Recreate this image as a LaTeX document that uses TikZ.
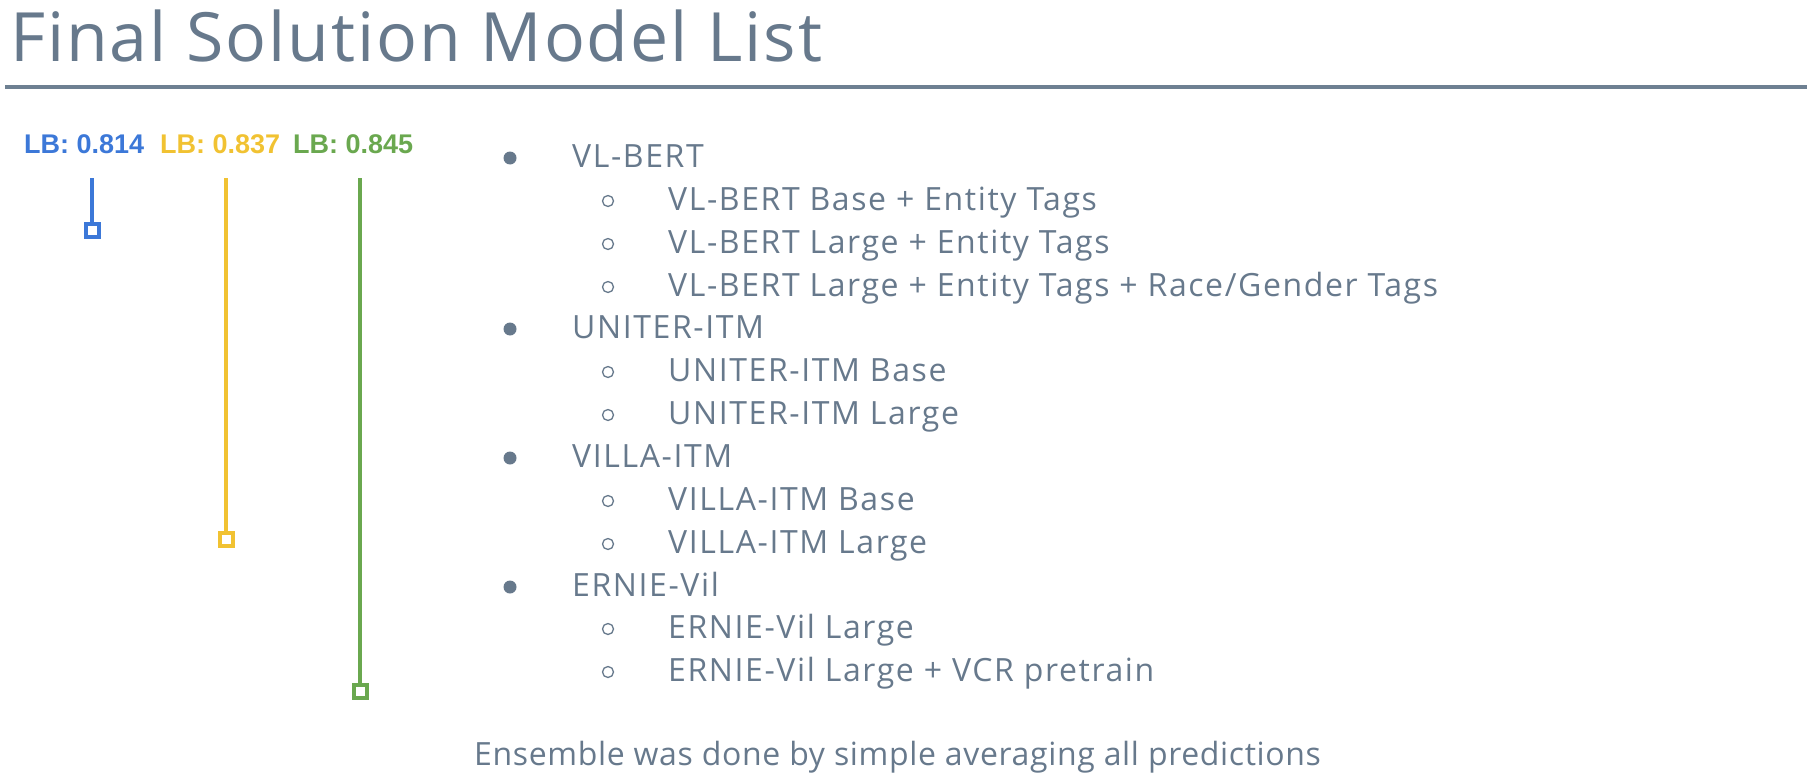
\documentclass[tikz,border=0pt]{standalone}
\usepackage{fontspec}
\setmainfont{Open Sans}
\newfontfamily\lbfont{Liberation Sans}
\definecolor{slate}{HTML}{67798C}
\definecolor{rulegray}{HTML}{6E8092}
\definecolor{lbblue}{HTML}{3C78D8}
\definecolor{lbyellow}{HTML}{F1C232}
\definecolor{lbgreen}{HTML}{6AA84F}
\begin{document}
\begin{tikzpicture}[x=1pt, y=-1pt,
    txt/.style={anchor=base west, inner sep=0pt, text=slate, font=\fontsize{32}{36}\selectfont\addfontfeature{LetterSpace=5}},
    note/.style={anchor=base west, inner sep=0pt, text=slate, font=\fontsize{32}{36}\selectfont\addfontfeature{LetterSpace=2}},
    lb/.style={anchor=base west, inner sep=0pt, font=\lbfont\bfseries\fontsize{27}{32}\selectfont},
    dot/.style={circle, fill=slate, inner sep=0pt, minimum size=13pt},
    ring/.style={circle, draw=slate, line width=1.3pt, inner sep=0pt, minimum size=11pt},
    endbox/.style={rectangle, draw, fill=white, line width=4pt, inner sep=0pt, minimum size=13pt}]

    \useasboundingbox (0,0) rectangle (1820,784);

    % Title and rule
    \node[anchor=base west, inner sep=0pt, text=slate, font=\fontsize{68}{80}\selectfont\addfontfeature{LetterSpace=2.8}] (title) at (10,62) {Final Solution Model List};
    \coordinate (H1) at (5,87);
    \coordinate (H2) at (1807,87);
    \draw[rulegray, line width=4.5pt] (H1) -- (H2);

    % Define leaderboard labels (left)
    \node[lb, text=lbblue] (L1) at (24,153) {LB: 0.814};
    \node[lb, text=lbyellow] (L2) at (160,153) {LB: 0.837};
    \node[lb, text=lbgreen] (L3) at (293,153) {LB: 0.845};

    % Define line tops and end boxes
    \coordinate (T1) at (92,178);
    \coordinate (T2) at (226,178);
    \coordinate (T3) at (360,178);
    \node[endbox, draw=lbblue] (S1) at (92,230) {};
    \node[endbox, draw=lbyellow] (S2) at (226,539) {};
    \node[endbox, draw=lbgreen] (S3) at (360,691) {};

    % Draw lines from the tops to the boxes
    \draw[lbblue, line width=4pt] (T1) -- (S1.north);
    \draw[lbyellow, line width=4pt] (T2) -- (S2.north);
    \draw[lbgreen, line width=4pt] (T3) -- (S3.north);

    % Define model families (first level)
    \node[dot] (D1) at (510,158) {};
    \node[txt] (M1) at (572,167) {VL-BERT};
    \node[dot] (D2) at (510,329) {};
    \node[txt] (M2) at (572,338) {UNITER-ITM};
    \node[dot] (D3) at (510,458) {};
    \node[txt] (M3) at (572,467) {VILLA-ITM};
    \node[dot] (D4) at (510,587) {};
    \node[txt] (M4) at (572,596) {ERNIE-Vil};

    % Define single models (second level)
    \node[ring] (R1) at (608,201) {};
    \node[txt] (P1) at (668,210) {VL-BERT Base + Entity Tags};
    \node[ring] (R2) at (608,244) {};
    \node[txt] (P2) at (668,253) {VL-BERT Large + Entity Tags};
    \node[ring] (R3) at (608,287) {};
    \node[txt] (P3) at (668,296) {VL-BERT Large + Entity Tags + Race/Gender Tags};
    \node[ring] (R4) at (608,372) {};
    \node[txt] (P4) at (668,381) {UNITER-ITM Base};
    \node[ring] (R5) at (608,415) {};
    \node[txt] (P5) at (668,424) {UNITER-ITM Large};
    \node[ring] (R6) at (608,501) {};
    \node[txt] (P6) at (668,510) {VILLA-ITM Base};
    \node[ring] (R7) at (608,544) {};
    \node[txt] (P7) at (668,553) {VILLA-ITM Large};
    \node[ring] (R8) at (608,629) {};
    \node[txt] (P8) at (668,638) {ERNIE-Vil Large};
    \node[ring] (R9) at (608,672) {};
    \node[txt] (P9) at (668,681) {ERNIE-Vil Large + VCR pretrain};

    % Footer
    \node[note] (F1) at (474,765) {Ensemble was done by simple averaging all predictions};

\end{tikzpicture}
\end{document}
